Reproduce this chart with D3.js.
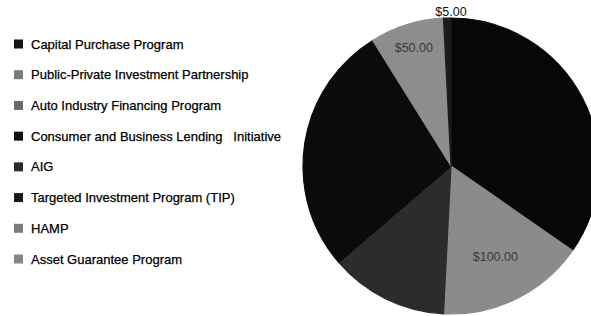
<!DOCTYPE html>
<html>
<head>
<meta charset="utf-8">
<script src="https://cdn.jsdelivr.net/npm/d3@7"></script>
<style>
  html, body { margin: 0; padding: 0; background: #fff; }
  svg { display: block; }
</style>
</head>
<body>
<svg id="chart" width="591" height="316"></svg>
<script>
// ---- data (billions of dollars) ----
const categories = [
  "Capital Purchase Program",
  "Public-Private Investment Partnership",
  "Auto Industry Financing Program",
  "Consumer and Business Lending\u00a0\u00a0\u00a0Initiative",
  "AIG",
  "Targeted Investment Program (TIP)",
  "HAMP",
  "Asset Guarantee Program"
];
const values = [215, 100, 80, 60, 70, 40, 50, 5];
const valueLabels = ["", "$100.00", "", "", "", "", "$50.00", "$5.00"];
const sliceColors = ["#070707", "#8b8b8b", "#2c2c2c", "#0b0b0b", "#0b0b0b", "#0b0b0b", "#8d8d8d", "#1c1c1c"];
const legendColors = ["#151515", "#7a7a7a", "#6a6a6a", "#111111", "#2a2a2a", "#1a1a1a", "#7c7c7c", "#858585"];

// ---- layout ----
const svg = d3.select("#chart");
const cx = 451, cy = 166, r = 148;

const pie = d3.pie().sort(null).value(d => d.value);
const data = categories.map((c, i) => ({ name: c, value: values[i], label: valueLabels[i], i }));
const arcs = pie(data);
const arc = d3.arc().innerRadius(0).outerRadius(r);

const g = svg.append("g").attr("transform", `translate(${cx},${cy})`);
g.selectAll("path.slice")
  .data(arcs)
  .join("path")
  .attr("class", "slice")
  .attr("d", arc)
  .attr("fill", d => sliceColors[d.data.i])
  .attr("stroke", d => sliceColors[d.data.i])
  .attr("stroke-width", 1.2)
  .attr("stroke-linejoin", "round");

// label radius factors (style)
const labelRadius = { 1: 0.68, 6: 0.84, 7: 1.045 };
g.selectAll("text.val")
  .data(arcs.filter(d => d.data.label))
  .join("text")
  .attr("class", "val")
  .attr("transform", d => {
    const rr = r * labelRadius[d.data.i];
    const a = (d.startAngle + d.endAngle) / 2;
    const x = d.data.i === 7 ? 0 : Math.sin(a) * rr;
    const y = -Math.cos(a) * rr;
    return `translate(${x},${y})`;
  })
  .attr("text-anchor", "middle")
  .attr("dy", "0.35em")
  .attr("font-family", "Liberation Sans, Arial, sans-serif")
  .attr("font-size", 12.5)
  .attr("fill", d => d.data.i === 7 ? "#111" : "#3a3a3a")
  .text(d => d.data.label);

// ---- legend ----
const legend = svg.append("g");
const rowY = d3.scalePoint().domain(d3.range(categories.length)).range([44, 259]);
const rows = legend.selectAll("g.row")
  .data(data)
  .join("g")
  .attr("class", "row")
  .attr("transform", d => `translate(14,${rowY(d.i)})`);
rows.append("rect")
  .attr("x", 0).attr("y", -4.5)
  .attr("width", 9).attr("height", 9)
  .attr("fill", d => legendColors[d.i]);
rows.append("text")
  .attr("x", 17)
  .attr("y", 4.5)
  .attr("font-family", "Liberation Sans, Arial, sans-serif")
  .attr("font-size", 13)
  .attr("fill", "#000")
  .attr("stroke", "#000")
  .attr("stroke-width", 0.25)
  .text(d => d.name);
</script>
</body>
</html>
